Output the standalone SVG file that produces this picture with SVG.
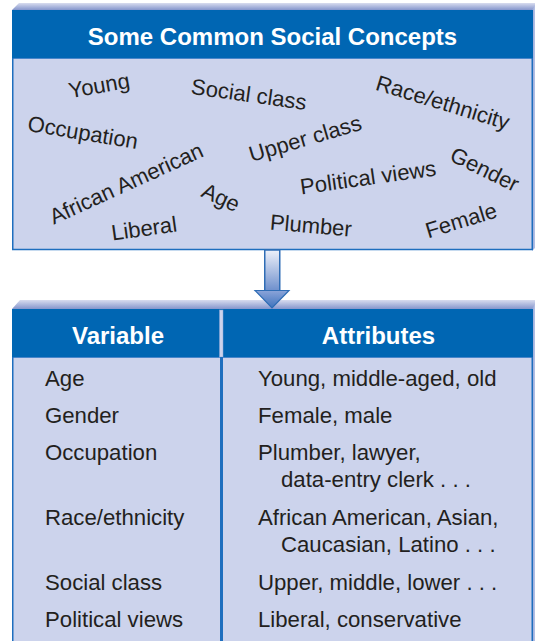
<svg xmlns="http://www.w3.org/2000/svg" width="535" height="641" viewBox="0 0 535 641">
<defs>
<linearGradient id="bevel" x1="0" y1="0" x2="0" y2="1">
<stop offset="0" stop-color="#D8DCEF"/>
<stop offset="1" stop-color="#8495CC"/>
</linearGradient>
<linearGradient id="side" x1="0" y1="0" x2="1" y2="0">
<stop offset="0" stop-color="#8FA3D6"/>
<stop offset="1" stop-color="#B9C3E5"/>
</linearGradient>
<linearGradient id="shaft" x1="0" y1="0" x2="0" y2="1">
<stop offset="0" stop-color="#EEF1FA"/>
<stop offset="1" stop-color="#6D8FCC"/>
</linearGradient>
<linearGradient id="head" x1="0" y1="0" x2="0" y2="1">
<stop offset="0" stop-color="#8BA4D9"/>
<stop offset="1" stop-color="#3E73BD"/>
</linearGradient>
<style>
.hdr{fill:#0066B3}
.body{fill:#CCD3EC;stroke:#1E6EBE;stroke-width:1.5}
.title{font-family:"Liberation Sans",Arial,sans-serif;font-weight:bold;font-size:24px;fill:#FFFFFF;text-anchor:middle}
.word{font-family:"Liberation Sans",Arial,sans-serif;font-size:22px;fill:#231F20;text-anchor:middle}
.cell{font-family:"Liberation Sans",Arial,sans-serif;font-size:22.2px;fill:#231F20}
</style>
</defs>

<g id="concepts">
<polygon points="12,10 19,3 535,3 535,10" fill="url(#bevel)"/>
<polygon points="532,10 535,5 535,248 532,251" fill="url(#side)"/>
<rect class="body" x="12.75" y="58" width="519.5" height="191.5"/>
<rect class="hdr" x="12" y="10" width="521" height="48"/>
<text class="title" x="272.5" y="45">Some Common Social Concepts</text>
<g class="word">
<text x="99" y="93" transform="rotate(-10 99 85)">Young</text>
<text x="249" y="102" transform="rotate(8 249 94)">Social class</text>
<text x="443" y="110" transform="rotate(17 443 102)">Race/ethnicity</text>
<text x="83" y="140" transform="rotate(9.5 83 132)">Occupation</text>
<text x="305" y="146" transform="rotate(-16.4 305 138)">Upper class</text>
<text x="126" y="191" transform="rotate(-24.5 126 183)">African American</text>
<text x="221" y="205" transform="rotate(25 221 197)">Age</text>
<text x="368" y="185" transform="rotate(-8 368 177)">Political views</text>
<text x="485" y="177" transform="rotate(26 485 169)">Gender</text>
<text x="144" y="236" transform="rotate(-8 144 228)">Liberal</text>
<text x="311" y="233" transform="rotate(5 311 225)">Plumber</text>
<text x="461" y="228" transform="rotate(-17 461 220)">Female</text>
</g>
</g>

<g id="table">
<polygon points="12,309 20,300 535,300 535,309" fill="url(#bevel)"/>
<polygon points="532,309 535,304 535,641 532,641" fill="url(#side)"/>
<rect class="body" x="12.75" y="357" width="519.5" height="290"/>
<rect class="hdr" x="12" y="309" width="521" height="48"/>
<rect x="219.5" y="310" width="3.5" height="47" fill="#CCD3EC" stroke="#8FA6D8" stroke-width="0.5"/>
<rect x="220" y="357" width="3" height="284" fill="#1E6EBE"/>
<text class="title" x="118" y="344">Variable</text>
<text class="title" x="378.5" y="344">Attributes</text>
<g class="cell">
<text x="45" y="386">Age</text>
<text x="45" y="423">Gender</text>
<text x="45" y="460">Occupation</text>
<text x="45" y="525">Race/ethnicity</text>
<text x="45" y="590">Social class</text>
<text x="45" y="627">Political views</text>
<text x="258" y="386">Young, middle-aged, old</text>
<text x="258" y="423">Female, male</text>
<text x="258" y="460">Plumber, lawyer,</text>
<text x="281" y="487">data-entry clerk . . .</text>
<text x="258" y="525">African American, Asian,</text>
<text x="281" y="552">Caucasian, Latino . . .</text>
<text x="258" y="590">Upper, middle, lower . . .</text>
<text x="258" y="627">Liberal, conservative</text>
</g>
</g>

<g id="connectors">
<rect x="264.75" y="250" width="15" height="41" fill="url(#shaft)" stroke="#2F6DB5" stroke-width="1.5"/>
<polygon points="255,290.5 289,290.5 272,308" fill="url(#head)" stroke="#2F6DB5" stroke-width="1.2" stroke-linejoin="miter"/>
</g>
</svg>
